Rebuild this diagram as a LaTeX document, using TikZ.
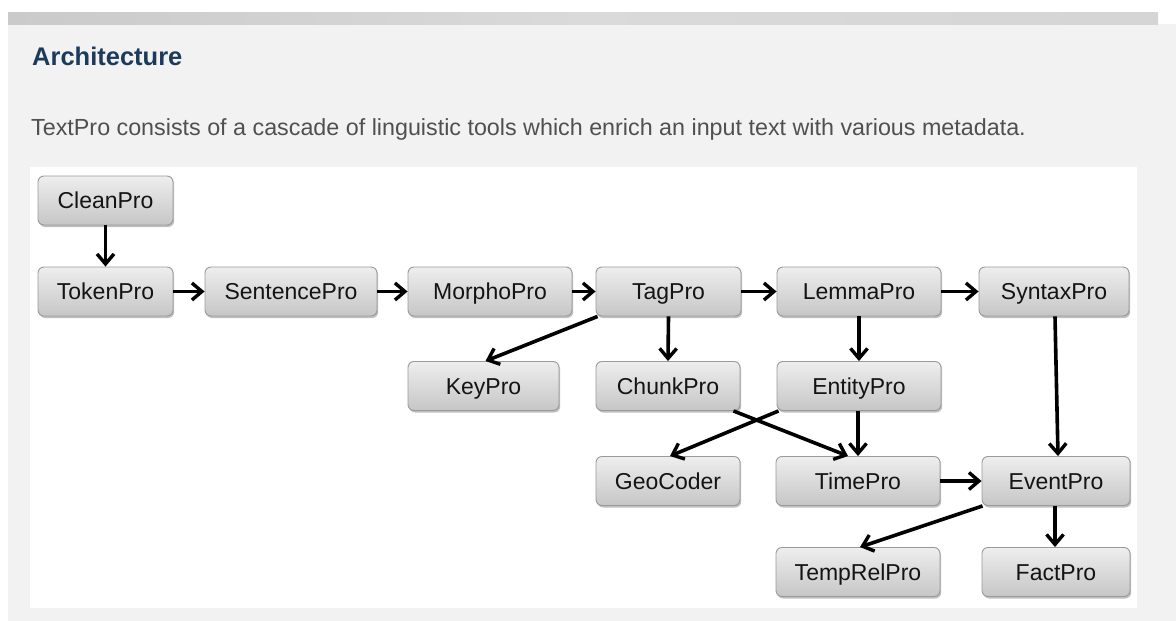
\documentclass[tikz,border=0pt]{standalone}
\usepackage{fontspec}
\setmainfont{Liberation Sans}
\usetikzlibrary{arrows.meta,shadows,calc}
\definecolor{panel}{HTML}{F2F2F2}
\definecolor{banner}{HTML}{CACACA}
\definecolor{titleblue}{HTML}{1C3A5B}
\definecolor{bodygrey}{HTML}{505050}
\definecolor{boxtop}{HTML}{EEEEEE}
\definecolor{boxbot}{HTML}{C6C6C6}
\definecolor{boxline}{HTML}{9A9A9A}
\definecolor{boxtext}{HTML}{141414}
\tikzset{
  box/.style={rectangle, rounded corners=6pt, draw=boxline, line width=0.9pt,
    top color=boxtop, bottom color=boxbot, text=boxtext, inner sep=0pt,
    minimum height=49pt, text height=16.5pt, text depth=0pt,
    font=\fontsize{23}{27}\selectfont,
    drop shadow={shadow xshift=1.2pt, shadow yshift=-2pt, fill=black, opacity=0.25}},
  link/.style={line width=3.6pt, black, -{Straight Barb[length=10pt,width=17pt,line width=3.4pt]}}
}
\begin{document}
\begin{tikzpicture}[x=1pt,y=-1pt]
\useasboundingbox (0,0) rectangle (1176,621);
\fill[white] (0,0) rectangle (1176,621);
\fill[panel] (8,24) rectangle (1176,621);
\shade[left color=banner, right color=banner!80, middle color=banner!70] (8,12) rectangle (1158,24);
\fill[white] (30,167) rectangle (1137,608);
\node[anchor=base west, inner sep=0pt, text=titleblue, font=\fontsize{25.5}{29}\bfseries\selectfont] (title) at (32,65) {Architecture};
\node[anchor=base west, inner sep=0pt, text=bodygrey, font=\fontsize{23.3}{27}\selectfont] (intro) at (31,135) {TextPro consists of a cascade of linguistic tools which enrich an input text with various metadata.};
% nodes
\node[box, minimum width=135pt] (clean) at (105.5,200.5) {CleanPro};
\node[box, minimum width=135pt] (token) at (105.5,291.5) {TokenPro};
\node[box, minimum width=172pt] (sentence) at (291,291.5) {SentencePro};
\node[box, minimum width=164pt] (morpho) at (490,291.5) {MorphoPro};
\node[box, minimum width=145pt] (tag) at (668.5,291.5) {TagPro};
\node[box, minimum width=164pt] (lemma) at (859,291.5) {LemmaPro};
\node[box, minimum width=150pt] (syntax) at (1054,291.5) {SyntaxPro};
\node[box, minimum width=151pt] (key) at (483.5,386) {KeyPro};
\node[box, minimum width=144pt] (chunk) at (668,386) {ChunkPro};
\node[box, minimum width=164pt] (entity) at (859,386) {EntityPro};
\node[box, minimum width=144pt] (geo) at (668,481) {GeoCoder};
\node[box, minimum width=164pt] (time) at (858,481) {TimePro};
\node[box, minimum width=148pt] (event) at (1056,481) {EventPro};
\node[box, minimum width=164pt] (temprel) at (858,572) {TempRelPro};
\node[box, minimum width=148pt] (fact) at (1056,572) {FactPro};
% connectors
\draw[link] (clean) -- (token);
\draw[link] (token) -- (sentence);
\draw[link] (sentence) -- (morpho);
\draw[link] (morpho) -- (tag);
\draw[link] (tag) -- (lemma);
\draw[link] (lemma) -- (syntax);
\draw[link] ($(tag.south west)+(2,0)$) -- ($(key.north)+(2,0)$);
\draw[link] (tag.south) -- (chunk.north);
\draw[link] (lemma.south) -- (entity.north);
\draw[link] ($(syntax.south)+(1,0)$) -- ($(event.north)+(2,0)$);
\draw[link] ($(chunk.south east)+(-7,0)$) -- ($(time.north)+(-10,0)$);
\draw[link] ($(entity.south west)+(2,0)$) -- ($(geo.north)+(2,0)$);
\draw[link] ($(entity.south)+(-1,0)$) -- ($(time.north)+(0,0)$);
\draw[link] (time) -- (event);
\draw[link] ($(event.south west)+(1,0)$) -- ($(temprel.north)+(2,0)$);
\draw[link] ($(event.south)+(-1,0)$) -- ($(fact.north)+(-1,0)$);
\end{tikzpicture}
\end{document}
